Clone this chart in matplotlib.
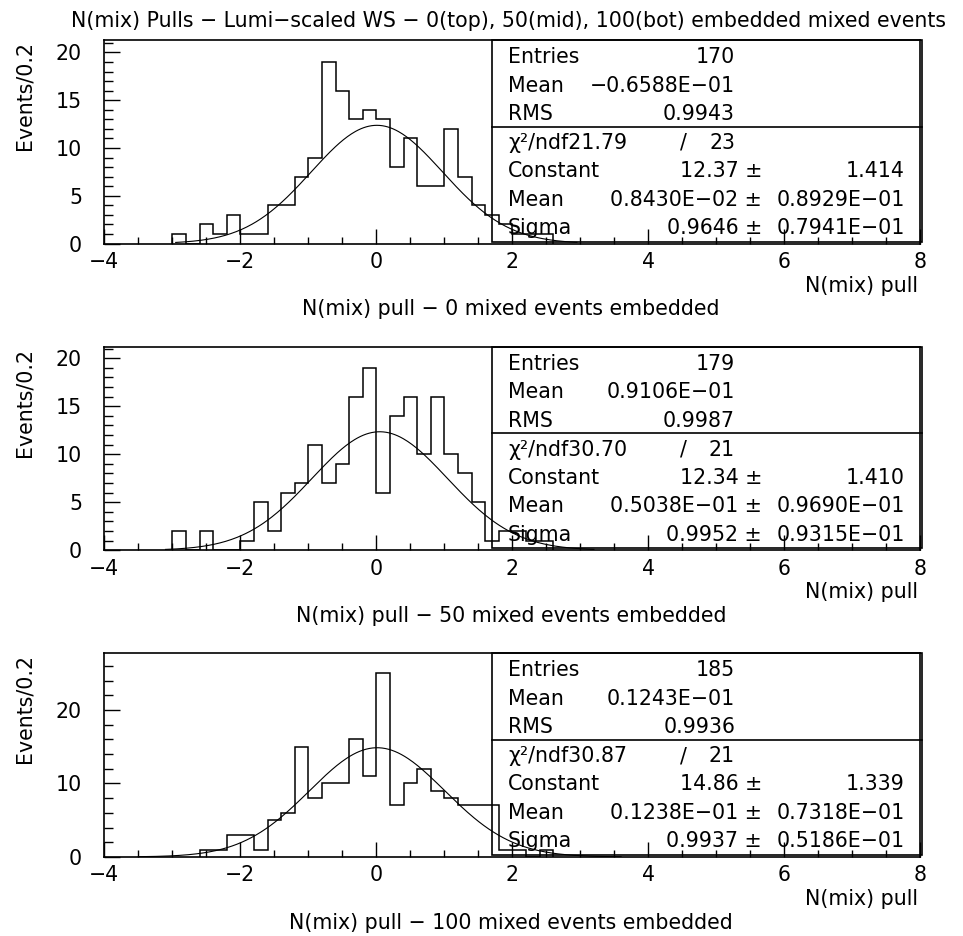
import numpy as np
import matplotlib.pyplot as plt
from matplotlib.patches import Rectangle
from matplotlib.ticker import MultipleLocator

# histogram contents, bin width 0.2, listed from the first filled bin
bin_w = 0.2
start_0 = -3.0
counts_0 = [1, 0, 2, 1, 3, 1, 1, 4, 4, 7, 9, 19, 16, 13, 14, 13, 8, 11, 6, 6,
            12, 7, 4, 3, 2, 1, 1, 1]
start_50 = -3.0
counts_50 = [2, 0, 2, 0, 0, 1, 5, 2, 6, 7, 11, 7, 9, 16, 19, 6, 14, 16, 10, 16,
             10, 8, 5, 1, 2, 2, 1, 1]
start_100 = -2.6
counts_100 = [1, 1, 3, 3, 1, 5, 6, 15, 8, 10, 10, 16, 11, 25, 7, 10, 12, 9, 8, 7,
              7, 7, 1, 1, 0, 1]

# gaussian fit results (constant, mean, sigma) and fit range
fit_const = [12.37, 12.34, 14.86]
fit_mean = [0.8430e-02, 0.5038e-01, 0.1238e-01]
fit_sigma = [0.9646, 0.9952, 0.9937]
fit_lo = [-2.95, -3.1, -3.5]
fit_hi = [2.95, 3.2, 3.6]

# stats box text
entries = ['170', '179', '185']
h_mean = ['\u22120.6588E\u221201', '0.9106E\u221201', '0.1243E\u221201']
h_rms = ['0.9943', '0.9987', '0.9936']
chi2 = ['21.79', '30.70', '30.87']
ndf = ['23', '21', '21']
const_txt = ['12.37', '12.34', '14.86']
const_err = ['1.414', '1.410', '1.339']
mean_txt = ['0.8430E\u221202', '0.5038E\u221201', '0.1238E\u221201']
mean_err = ['0.8929E\u221201', '0.9690E\u221201', '0.7318E\u221201']
sigma_txt = ['0.9646', '0.9952', '0.9937']
sigma_err = ['0.7941E\u221201', '0.9315E\u221201', '0.5186E\u221201']

n_embedded = ['0', '50', '100']
ymax = [21.3, 21.2, 27.7]
ymajor = [5, 5, 10]
yminor = [1, 1, 2]

W, H = 963, 936
plt.rcParams['font.family'] = 'DejaVu Sans'
fs = 14.8
fig = plt.figure(figsize=(W / 100, H / 100), dpi=100)


def fx(x):
    return x / W


def fy(y):
    return 1 - y / H


fig.text(fx(508), fy(21), 'N(mix) Pulls \u2212 Lumi\u2212scaled WS \u2212 0(top), 50(mid), '
         '100(bot) embedded mixed events', ha='center', va='center', fontsize=fs)

starts = [start_0, start_50, start_100]
counts = [counts_0, counts_50, counts_100]
left, right = 104.3, 920.3
panel_h = 203.5

for i in range(3):
    top = 40 + i * 306.7
    bot = top + panel_h
    ax = fig.add_axes([fx(left), fy(bot), (right - left) / W, panel_h / H])

    c = np.array(counts[i], dtype=float)
    edges = starts[i] + bin_w * np.arange(len(c) + 1)
    ax.stairs(c, edges, baseline=0, color='black', lw=1.1)

    xs = np.linspace(fit_lo[i], fit_hi[i], 300)
    ys = fit_const[i] * np.exp(-0.5 * ((xs - fit_mean[i]) / fit_sigma[i]) ** 2)
    ax.plot(xs, ys, color='black', lw=0.8)

    ax.set_xlim(-4, 8)
    ax.set_ylim(0, ymax[i])
    ax.xaxis.set_major_locator(MultipleLocator(2))
    ax.xaxis.set_minor_locator(MultipleLocator(0.5))
    ax.yaxis.set_major_locator(MultipleLocator(ymajor[i]))
    ax.yaxis.set_minor_locator(MultipleLocator(yminor[i]))
    ax.tick_params(axis='both', which='both', direction='in', top=False, right=False,
                   width=1.0, labelsize=fs)
    ax.tick_params(axis='y', which='major', length=11.5, pad=16)
    ax.tick_params(axis='y', which='minor', length=6.5)
    ax.tick_params(axis='x', which='major', length=11, pad=6)
    ax.tick_params(axis='x', which='minor', length=5)
    for s in ax.spines.values():
        s.set_linewidth(1.2)

    # y label
    fig.text(fx(25), fy(top + 1), 'Events/0.2', rotation=90, ha='center', va='top',
             fontsize=fs)
    fig.text(fx(918), fy(bot + 42), 'N(mix) pull', ha='right', va='center', fontsize=fs)
    fig.text(fx(511), fy(bot + 66),
             'N(mix) pull \u2212 ' + n_embedded[i] + ' mixed events embedded',
             ha='center', va='center', fontsize=fs)

    # stats box
    box = Rectangle((fx(492), fy(bot - 2)), (922 - 492) / W, (bot - 2 - top) / H,
                    transform=fig.transFigure, fill=False, ec='black', lw=1.2)
    fig.add_artist(box)
    fig.add_artist(plt.Line2D([fx(492), fx(922)], [fy(top + 86.7)] * 2,
                              transform=fig.transFigure, color='black', lw=1.2))

    rows = [top + 17, top + 45.5, top + 74, top + 103, top + 131, top + 159.5, top + 188]
    lx, c1, pm, c2 = 508, 735, 762, 905
    fig.text(fx(lx), fy(rows[0]), 'Entries', va='center', fontsize=fs)
    fig.text(fx(c1), fy(rows[0]), entries[i], ha='right', va='center', fontsize=fs)
    fig.text(fx(lx), fy(rows[1]), 'Mean', va='center', fontsize=fs)
    fig.text(fx(c1), fy(rows[1]), h_mean[i], ha='right', va='center', fontsize=fs)
    fig.text(fx(lx), fy(rows[2]), 'RMS', va='center', fontsize=fs)
    fig.text(fx(c1), fy(rows[2]), h_rms[i], ha='right', va='center', fontsize=fs)
    fig.text(fx(lx), fy(rows[3]), '\u03c7\u00b2/ndf' + chi2[i], va='center', fontsize=fs)
    fig.text(fx(683), fy(rows[3]), '/', ha='center', va='center', fontsize=fs)
    fig.text(fx(c1), fy(rows[3]), ndf[i], ha='right', va='center', fontsize=fs)
    for r, lab, val, err in [(rows[4], 'Constant', const_txt[i], const_err[i]),
                             (rows[5], 'Mean', mean_txt[i], mean_err[i]),
                             (rows[6], 'Sigma', sigma_txt[i], sigma_err[i])]:
        fig.text(fx(lx), fy(r), lab, va='center', fontsize=fs)
        fig.text(fx(pm), fy(r), val + ' \u00b1', ha='right', va='center', fontsize=fs)
        fig.text(fx(c2), fy(r), err, ha='right', va='center', fontsize=fs)

fig.savefig('out.png', dpi=100)
